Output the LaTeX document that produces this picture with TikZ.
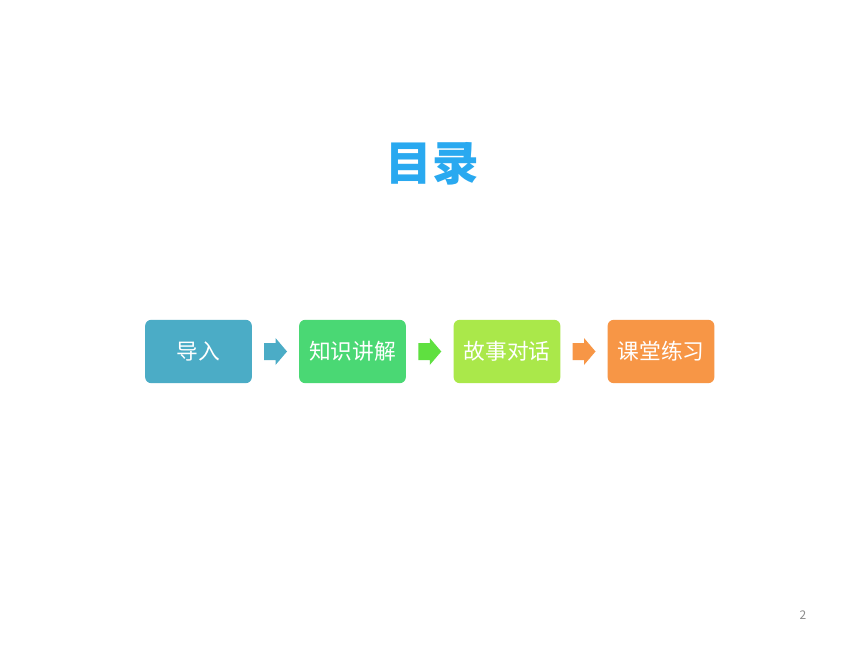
\documentclass[tikz,border=0pt]{standalone}
\usepackage{fontspec}
\setmainfont{Noto Sans CJK SC}
\usetikzlibrary{calc}
\definecolor{cA}{HTML}{4BACC6}
\definecolor{cB}{HTML}{4AD874}
\definecolor{cC}{HTML}{AAE84A}
\definecolor{cD}{HTML}{F79646}
\definecolor{cArr}{HTML}{5FE040}
\definecolor{cTitle}{HTML}{29A9F0}
\definecolor{cNum}{HTML}{8C8C8C}
\tikzset{
  stagebox/.style={rounded corners=4.5pt, minimum width=80pt, minimum height=47.5pt,
    inner sep=0pt, text=white, font=\fontsize{16.3}{18}\selectfont},
  blockarrow/.pic={\fill[pic actions] (-11.5,-8.5) -- (0,-8.5) -- (0,-13.5) -- (11.5,0) -- (0,13.5) -- (0,8.5) -- (-11.5,8.5) -- cycle;}
}
\begin{document}
\begin{tikzpicture}[x=0.75pt,y=-0.75pt]
\useasboundingbox (0,0) rectangle (860,645);
\fill[white] (0,0) rectangle (860,645);
\node[text=cTitle, font=\fontsize{35}{38}\selectfont\bfseries] (title) at (432,163.5) {目录};
\node[stagebox, fill=cA] (b1) at (198.5,351.5) {导入};
\node[stagebox, fill=cB] (b2) at (352.5,351.5) {知识讲解};
\node[stagebox, fill=cC] (b3) at (507,351.5) {故事对话};
\node[stagebox, fill=cD] (b4) at (661,351.5) {课堂练习};
\coordinate (a1) at ($(b1.east)!0.5!(b2.west)$);
\coordinate (a2) at ($(b2.east)!0.5!(b3.west)$);
\coordinate (a3) at ($(b3.east)!0.5!(b4.west)$);
\pic[fill=cA] at (a1) {blockarrow};
\pic[fill=cArr] at (a2) {blockarrow};
\pic[fill=cD] at (a3) {blockarrow};
\node[text=cNum, font=\fontsize{9}{11}\selectfont] (pg) at (803,615) {2};
\end{tikzpicture}
\end{document}
